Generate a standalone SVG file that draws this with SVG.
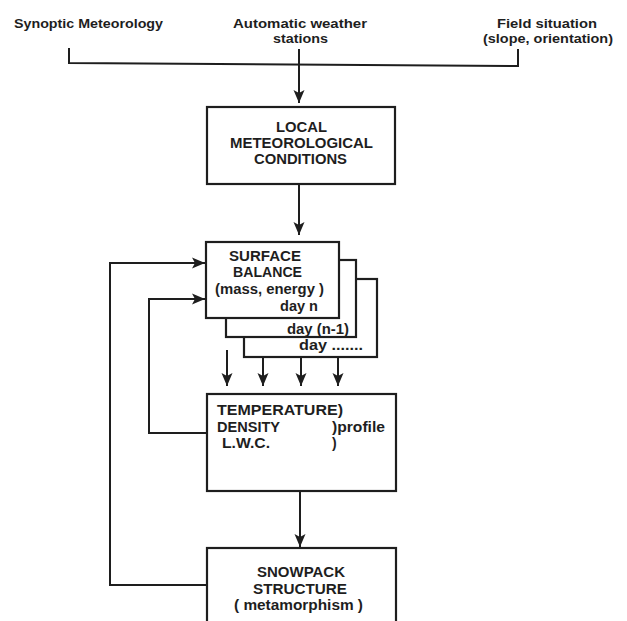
<svg xmlns="http://www.w3.org/2000/svg" width="627" height="621" viewBox="0 0 627 621">
<defs>
<style>
text{font-family:"Liberation Sans",Arial,sans-serif;font-weight:bold;fill:#1e1e1e;}
.top{font-size:13.5px;}
.bx{font-size:14px;}
.box{fill:#fff;stroke:#1e1e1e;stroke-width:2.2;}
.ln{fill:none;stroke:#1e1e1e;stroke-width:2;}
</style>
<marker id="ah" markerUnits="userSpaceOnUse" markerWidth="14" markerHeight="12" refX="13" refY="6" orient="auto">
<path d="M0,0.5 L13,6 L0,11.5 L3,6 z" fill="#1e1e1e"/>
</marker>
</defs>
<rect width="627" height="621" fill="#fff"/>

<g id="src-synoptic"><text class="top" x="14" y="28" textLength="149" lengthAdjust="spacingAndGlyphs">Synoptic Meteorology</text></g>
<g id="src-aws">
<text class="top" x="233" y="28" textLength="134" lengthAdjust="spacingAndGlyphs">Automatic weather</text>
<text class="top" x="273" y="43" textLength="55" lengthAdjust="spacingAndGlyphs">stations</text>
</g>
<g id="src-field">
<text class="top" x="497" y="28" textLength="100" lengthAdjust="spacingAndGlyphs">Field situation</text>
<text class="top" x="483" y="43" textLength="130" lengthAdjust="spacingAndGlyphs">(slope, orientation)</text>
</g>

<g id="connectors">
<path class="ln" d="M69,48 V63 L518,66 V49"/>
<path class="ln" d="M299,49 V103" marker-end="url(#ah)"/>
<path class="ln" d="M299,184 V235" marker-end="url(#ah)"/>
<path class="ln" d="M227,350 V386" marker-end="url(#ah)"/>
<path class="ln" d="M263,357 V386" marker-end="url(#ah)"/>
<path class="ln" d="M301,357 V386" marker-end="url(#ah)"/>
<path class="ln" d="M338,357 V386" marker-end="url(#ah)"/>
<path class="ln" d="M300,491 V547" marker-end="url(#ah)"/>
<path class="ln" d="M207,433 H149 V299 H205" marker-end="url(#ah)"/>
<path class="ln" d="M207,585 H110 V263 H205" marker-end="url(#ah)"/>
</g>

<g id="local-conditions">
<rect class="box" x="207" y="107" width="188" height="77"/>
<text class="bx" x="276" y="132" textLength="51" lengthAdjust="spacingAndGlyphs">LOCAL</text>
<text class="bx" x="230" y="148" textLength="143" lengthAdjust="spacingAndGlyphs">METEOROLOGICAL</text>
<text class="bx" x="254" y="164" textLength="93" lengthAdjust="spacingAndGlyphs">CONDITIONS</text>
</g>

<g id="surface-balance-day-dots">
<rect class="box" x="244" y="279" width="133" height="78"/>
<text class="bx" x="299" y="350" textLength="64" lengthAdjust="spacingAndGlyphs">day .......</text>
</g>
<g id="surface-balance-day-n-1">
<rect class="box" x="226" y="260" width="130" height="77"/>
<text class="bx" x="287" y="334" textLength="62" lengthAdjust="spacingAndGlyphs">day (n-1)</text>
</g>
<g id="surface-balance">
<rect class="box" x="206" y="242" width="133" height="76"/>
<text class="bx" x="229" y="261" textLength="72" lengthAdjust="spacingAndGlyphs">SURFACE</text>
<text class="bx" x="233" y="277" textLength="69" lengthAdjust="spacingAndGlyphs">BALANCE</text>
<text class="bx" x="215" y="294" textLength="109" lengthAdjust="spacingAndGlyphs">(mass, energy )</text>
<text class="bx" x="280" y="311" textLength="38" lengthAdjust="spacingAndGlyphs">day n</text>
</g>

<g id="profile">
<rect class="box" x="207" y="394" width="189" height="97"/>
<text class="bx" x="217" y="415" textLength="126" lengthAdjust="spacingAndGlyphs">TEMPERATURE)</text>
<text class="bx" x="217" y="432" textLength="63" lengthAdjust="spacingAndGlyphs">DENSITY</text>
<text class="bx" x="332" y="432" textLength="53" lengthAdjust="spacingAndGlyphs">)profile</text>
<text class="bx" x="222" y="448" textLength="48" lengthAdjust="spacingAndGlyphs">L.W.C.</text>
<text class="bx" x="332" y="448">)</text>
</g>

<g id="snowpack-structure">
<rect class="box" x="207" y="548" width="189" height="90"/>
<text class="bx" x="257" y="577" textLength="88" lengthAdjust="spacingAndGlyphs">SNOWPACK</text>
<text class="bx" x="253" y="594" textLength="94" lengthAdjust="spacingAndGlyphs">STRUCTURE</text>
<text class="bx" x="234" y="610" textLength="129" lengthAdjust="spacingAndGlyphs">( metamorphism )</text>
</g>
</svg>
